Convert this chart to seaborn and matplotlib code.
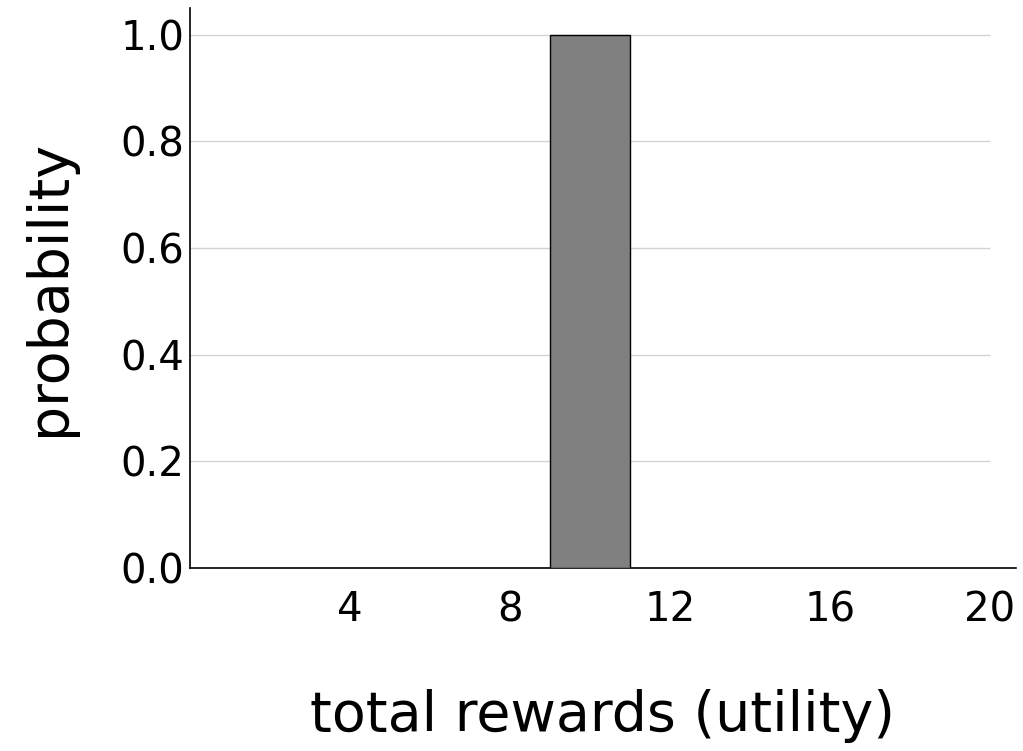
import matplotlib
matplotlib.use("Agg")
import matplotlib.pyplot as plt
import pandas as pd
import seaborn as sns

# single outcome distribution
rewards = [10]
probs = [1.0]
bin_edges = [9, 11]
x_ticks = [4, 8, 12, 16, 20]
y_ticks = [0.0, 0.2, 0.4, 0.6, 0.8, 1.0]

df = pd.DataFrame({'reward': rewards, 'prob': probs})

sns.set_style('white')
plt.rcParams['font.family'] = ['DejaVu Sans']
plt.rcParams['text.color'] = 'black'
plt.rcParams['axes.labelcolor'] = 'black'
plt.rcParams['xtick.color'] = 'black'
plt.rcParams['ytick.color'] = 'black'

fig = plt.figure(figsize=(10.23, 7.51), dpi=100)
ax = fig.add_axes([0.1857, 0.2437, 0.8073, 0.7456])

# grid only spans the data range (0..20)
ax.hlines(y_ticks[1:], 0, 20, color='#d3d3d3', linewidth=1, zorder=0)

sns.histplot(data=df, x='reward', weights='prob', bins=bin_edges,
             stat='probability', color='#808080', edgecolor='black',
             linewidth=1, alpha=1.0, ax=ax, zorder=3)

ax.set_xlim(0, 20.65)
ax.set_ylim(0, 1.05)
ax.set_xticks(x_ticks)
ax.set_yticks(y_ticks)
ax.set_yticklabels([f'{v:.1f}' for v in y_ticks])

sns.despine(ax=ax)
for s in ['left', 'bottom']:
    ax.spines[s].set_color('black')
    ax.spines[s].set_linewidth(1.2)

ax.tick_params(axis='x', length=6, width=1, color='black', labelsize=29, pad=10)
ax.tick_params(axis='y', length=0, labelsize=29, pad=4)

ax.set_xlabel('total rewards (utility)', fontsize=40, labelpad=42)
ax.set_ylabel('probability', fontsize=40, labelpad=32)

fig.savefig('out.png', dpi=100)
